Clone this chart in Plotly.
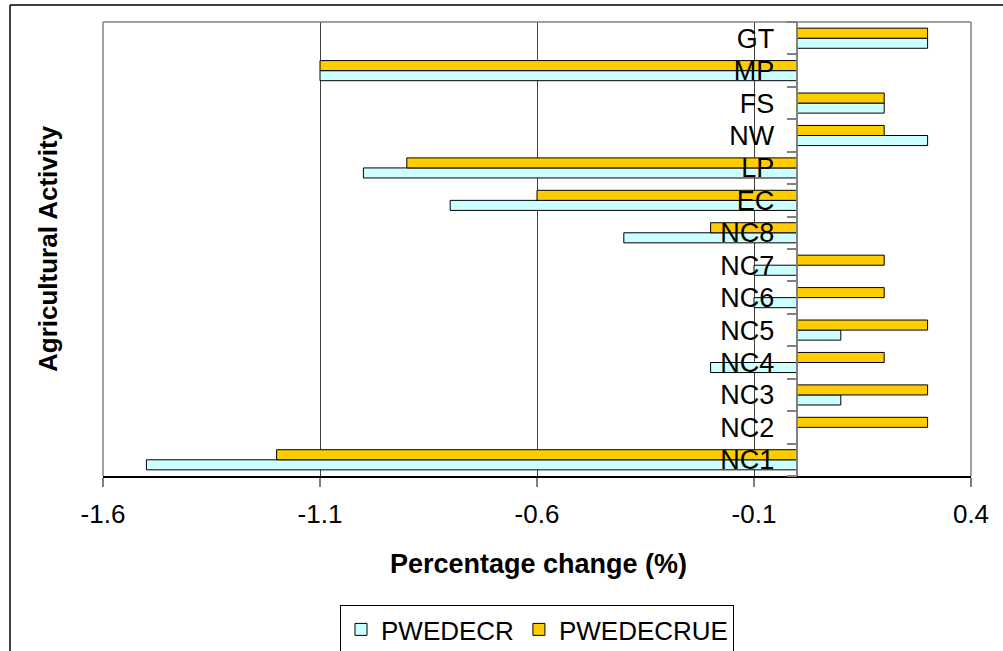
import plotly.graph_objects as go

# Agricultural activities, bottom to top
categories = ["NC1", "NC2", "NC3", "NC4", "NC5", "NC6", "NC7", "NC8",
              "EC", "LP", "NW", "FS", "MP", "GT"]

# Percentage change (%) per activity
pwedecr = [-1.5, 0.0, 0.1, -0.2, 0.1, -0.1, -0.1, -0.4, -0.8, -1.0, 0.3, 0.2, -1.1, 0.3]
pwedecrue = [-1.2, 0.3, 0.3, 0.2, 0.3, 0.2, 0.2, -0.2, -0.6, -0.9, 0.2, 0.2, -1.1, 0.3]

x_ticks = [-1.6, -1.1, -0.6, -0.1, 0.4]
x_tick_labels = ["-1.6", "-1.1", "-0.6", "-0.1", "0.4"]

FONT = "Liberation Sans, Arial, sans-serif"

fig = go.Figure()
fig.add_trace(go.Bar(
    y=categories, x=pwedecr, name="PWEDECR", orientation="h",
    marker=dict(color="#CCFFFF", line=dict(color="#000000", width=1)),
))
fig.add_trace(go.Bar(
    y=categories, x=pwedecrue, name="PWEDECRUE", orientation="h",
    marker=dict(color="#FFCC00", line=dict(color="#000000", width=1)),
))

W, H = 1003, 651
L, R, T, B = 103, 971, 22, 476
pw, ph = R - L, B - T


def px_x(p):
    return (p - L) / pw


def px_y(p):
    return (B - p) / ph


fig.update_layout(
    width=W, height=H,
    margin=dict(l=L, r=W - R, t=T, b=H - B, pad=0, autoexpand=False),
    paper_bgcolor="white", plot_bgcolor="white",
    barmode="group", bargap=0.38, bargroupgap=0,
    font=dict(family=FONT, color="#000000"),
    showlegend=True,
    legend=dict(
        orientation="h", x=0.5, xanchor="center", y=px_y(605), yanchor="top",
        bordercolor="#000000", borderwidth=1, font=dict(size=26),
        traceorder="normal",
    ),
    xaxis=dict(
        range=[-1.6, 0.4], tickmode="array", tickvals=x_ticks, ticktext=x_tick_labels,
        showgrid=True, gridcolor="#404040", gridwidth=1, zeroline=False,
        showline=True, linecolor="#000000", linewidth=1.5,
        ticks="outside", ticklen=9, tickcolor="#808080", tickwidth=1.5,
        tickfont=dict(size=26), ticklabelstandoff=5,
    ),
    yaxis=dict(
        type="category", categoryorder="array", categoryarray=categories,
        anchor="free", position=0.8, side="left",
        showgrid=False, zeroline=False,
        showline=True, linecolor="#808080", linewidth=1.5,
        ticks="outside", ticklen=10, tickcolor="#808080", tickwidth=1.5,
        tickson="boundaries", tickfont=dict(size=27), ticklabelstandoff=17,
    ),
    annotations=[
        dict(text="<b>Percentage change (%)</b>", xref="paper", yref="paper",
             x=px_x(538), y=px_y(564), xanchor="center", yanchor="middle",
             showarrow=False, font=dict(size=27)),
        dict(text="<b>Agricultural Activity</b>", xref="paper", yref="paper",
             x=px_x(48), y=px_y(249), xanchor="center", yanchor="middle",
             textangle=-90, showarrow=False, font=dict(size=26)),
    ],
    shapes=[
        # plot-area frame
        dict(type="line", xref="paper", yref="paper", x0=0, x1=0, y0=0, y1=1,
             line=dict(color="#808080", width=1.5), layer="above"),
        dict(type="line", xref="paper", yref="paper", x0=1, x1=1, y0=0, y1=1,
             line=dict(color="#808080", width=1.5), layer="above"),
        dict(type="line", xref="paper", yref="paper", x0=0, x1=1, y0=1, y1=1,
             line=dict(color="#808080", width=1.5), layer="above"),
        # outer chart frame
        dict(type="line", xref="paper", yref="paper", x0=px_x(10), x1=px_x(W + 5),
             y0=px_y(5), y1=px_y(5), line=dict(color="#000000", width=1.5)),
        dict(type="line", xref="paper", yref="paper", x0=px_x(10), x1=px_x(10),
             y0=px_y(5), y1=px_y(H + 5), line=dict(color="#000000", width=1.5)),
    ],
)

fig.write_html("out.html")
